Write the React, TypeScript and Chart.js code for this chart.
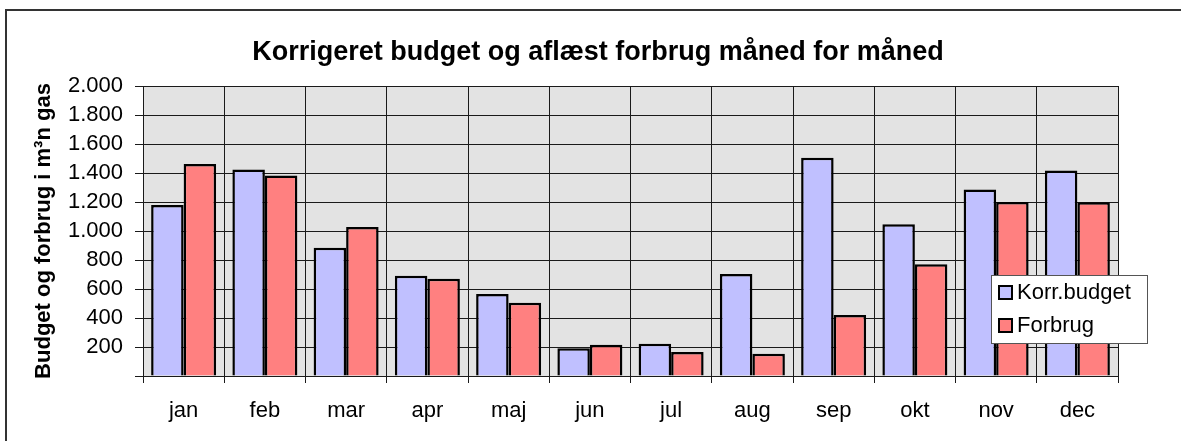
import React, { useEffect, useRef } from 'react';
import { Chart, registerables } from 'chart.js';

Chart.register(...registerables);

const months = ['jan', 'feb', 'mar', 'apr', 'maj', 'jun', 'jul', 'aug', 'sep', 'okt', 'nov', 'dec'];
const korrBudget = [1180, 1425, 885, 692, 566, 191, 223, 703, 1506, 1046, 1287, 1418];
const forbrug = [1462, 1382, 1028, 671, 506, 216, 166, 154, 421, 770, 1200, 1198];
const yMin = 0;
const yMax = 2000;
const yStep = 200;
const titleText = 'Korrigeret budget og aflæst forbrug måned for måned';
const yTitleText = 'Budget og forbrug i m³n gas';
const seriesNames = ['Korr.budget', 'Forbrug'];
const seriesColors = ['#c0c0ff', '#ff8080'];

const FONT = '"Liberation Sans", Arial, sans-serif';

function fmt(v: number): string {
  if (v === 0) return '';
  const s = String(Math.round(v));
  return s.replace(/\B(?=(\d{3})+(?!\d))/g, '.');
}

const decorPlugin = {
  id: 'decor',
  beforeDraw(chart: any) {
    const { ctx, chartArea } = chart;
    ctx.save();
    ctx.fillStyle = '#ffffff';
    ctx.fillRect(0, 0, chart.width, chart.height);
    ctx.strokeStyle = '#333333';
    ctx.lineWidth = 2;
    ctx.strokeRect(6, 10, chart.width + 20, chart.height + 20);
    ctx.fillStyle = '#e3e3e3';
    ctx.fillRect(chartArea.left, chartArea.top, chartArea.right - chartArea.left, chartArea.bottom - chartArea.top);
    ctx.restore();
  },
  afterDraw(chart: any) {
    const { ctx } = chart;
    ctx.save();
    // title
    ctx.fillStyle = '#000';
    ctx.font = 'bold 27px ' + FONT;
    ctx.textAlign = 'center';
    ctx.textBaseline = 'alphabetic';
    ctx.fillText(titleText, 598, 60);
    // legend
    const lx = 991, ly = 275, lw = 156, lh = 68;
    ctx.fillStyle = '#ffffff';
    ctx.fillRect(lx, ly, lw, lh);
    ctx.strokeStyle = '#555';
    ctx.lineWidth = 1;
    ctx.strokeRect(lx + 0.5, ly + 0.5, lw, lh);
    ctx.font = '22px ' + FONT;
    ctx.textAlign = 'left';
    ctx.textBaseline = 'middle';
    const rows = [292, 325];
    seriesNames.forEach((name, i) => {
      const cy = rows[i];
      ctx.fillStyle = seriesColors[i];
      ctx.fillRect(998, cy - 7, 14, 14);
      ctx.strokeStyle = '#000';
      ctx.lineWidth = 2;
      ctx.strokeRect(999, cy - 6, 13, 13);
      ctx.fillStyle = '#000';
      ctx.fillText(name, 1017, cy + 1);
    });
    ctx.restore();
  },
};

export default function App() {
  const ref = useRef<HTMLCanvasElement | null>(null);
  useEffect(() => {
    if (!ref.current) return;
    const chart = new Chart(ref.current, {
      type: 'bar',
      data: {
        labels: months,
        datasets: [
          {
            label: seriesNames[0],
            data: korrBudget,
            backgroundColor: seriesColors[0],
            borderColor: '#000',
            borderWidth: 2.5,
            categoryPercentage: 0.8,
            barPercentage: 1.0,
          },
          {
            label: seriesNames[1],
            data: forbrug,
            backgroundColor: seriesColors[1],
            borderColor: '#000',
            borderWidth: 2.5,
            categoryPercentage: 0.8,
            barPercentage: 1.0,
          },
        ],
      },
      options: {
        responsive: false,
        animation: false,
        layout: { padding: { top: 86, left: 0, right: 63, bottom: 0 } },
        plugins: {
          legend: { display: false },
          title: { display: false },
          tooltip: { enabled: false },
        },
        scales: {
          x: {
            afterFit: (s: any) => { s.height = 65; },
            grid: { offset: true, color: '#1a1a1a', lineWidth: 1, tickLength: 7, drawOnChartArea: true },
            border: { display: true, color: '#1a1a1a', width: 1 },
            ticks: { color: '#000', font: { family: FONT, size: 22 }, padding: 15 },
          },
          y: {
            min: yMin,
            max: yMax,
            afterFit: (s: any) => { s.width = 143; },
            grid: { color: '#1a1a1a', lineWidth: 1, tickLength: 8 },
            border: { display: true, color: '#1a1a1a', width: 1 },
            ticks: {
              stepSize: yStep,
              autoSkip: false,
              color: '#000',
              font: { family: FONT, size: 22 },
              padding: 12,
              callback: (v: any) => fmt(Number(v)),
            },
            title: {
              display: true,
              text: yTitleText,
              color: '#000',
              font: { family: FONT, size: 22, weight: 'bold' },
              padding: { top: 31, bottom: 0 },
            },
          },
        },
      },
      plugins: [decorPlugin],
    });
    return () => chart.destroy();
  }, []);
  return (
    <div style={{ position: 'absolute', left: 0, top: 0, width: 1181, height: 441, overflow: 'hidden' }}>
      <canvas ref={ref} width={1181} height={441} style={{ display: 'block' }} />
    </div>
  );
}
